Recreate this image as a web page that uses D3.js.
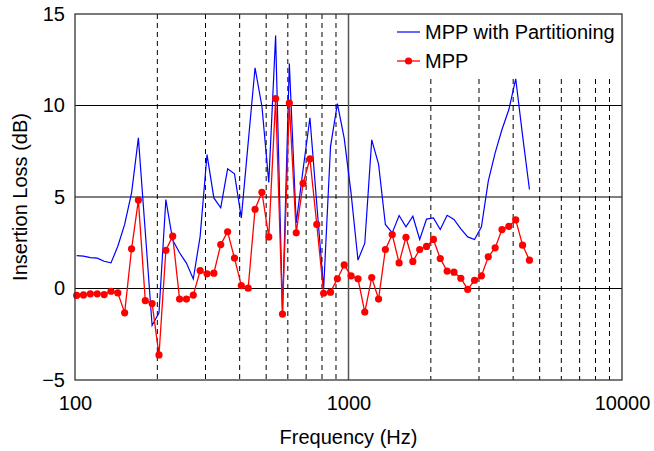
<!DOCTYPE html>
<html>
<head>
<meta charset="utf-8">
<script src="https://cdn.jsdelivr.net/npm/d3@7"></script>
<style>
  html, body { margin: 0; padding: 0; background: #fff; }
  svg { display: block; font-family: "Liberation Sans", Arial, sans-serif; }
</style>
</head>
<body>
<svg id="chart" width="654" height="451"></svg>
<script>
// 1/12-octave band centre frequencies (Hz)
const frequencies = [
  101.4, 107.4, 113.8, 120.6, 127.8, 135.4, 143.4, 151.9, 161.0, 170.5,
  180.7, 191.4, 202.8, 214.9, 227.6, 241.2, 255.5, 270.7, 286.8, 303.9,
  321.9, 341.1, 361.4, 382.9, 405.6, 429.7, 455.3, 482.4, 511.1, 541.4,
  573.6, 607.7, 643.9, 682.2, 722.7, 765.7, 811.2, 859.5, 910.6, 964.7,
  1022, 1083, 1147, 1216, 1288, 1364, 1445, 1531, 1622, 1719,
  1821, 1929, 2044, 2165, 2294, 2430, 2575, 2728, 2890, 3062,
  3244, 3437, 3641, 3858, 4087, 4330, 4588
];

// Insertion loss (dB), MPP with partitioning
const partitionedLoss = [
  1.80, 1.77, 1.69, 1.66, 1.49, 1.40, 2.31, 3.50, 5.23, 8.23,
  3.10, -2.02, -1.33, 4.86, 2.65, 1.95, 1.39, 0.52, 2.85, 7.32,
  4.95, 4.41, 6.54, 6.27, 3.86, 7.96, 12.06, 9.96, 5.80, 13.83,
  -1.30, 12.30, 3.58, 6.50, 9.33, 4.60, 0.00, 7.75, 10.10, 8.20,
  5.20, 1.55, 2.48, 8.12, 6.80, 3.50, 3.04, 3.99, 3.37, 3.95,
  2.68, 3.79, 3.86, 3.22, 4.00, 3.77, 3.26, 2.82, 2.68, 3.37,
  5.87, 7.41, 8.69, 9.78, 11.46, 8.35, 5.41
];

// Insertion loss (dB), plain MPP
const mppLoss = [
  -0.38, -0.35, -0.29, -0.29, -0.33, -0.15, -0.24, -1.33, 2.17, 4.83,
  -0.66, -0.82, -3.63, 2.09, 2.86, -0.58, -0.58, -0.36, 0.98, 0.80,
  0.84, 2.40, 3.10, 1.66, 0.16, 0.02, 4.33, 5.26, 2.82, 10.38,
  -1.40, 10.13, 3.04, 5.74, 7.09, 3.50, -0.26, -0.20, 0.53, 1.29,
  0.69, 0.53, -1.29, 0.60, -0.58, 2.13, 2.95, 1.40, 2.80, 1.48,
  2.13, 2.30, 2.68, 1.64, 0.95, 0.89, 0.56, -0.05, 0.45, 0.69,
  1.73, 2.22, 3.22, 3.40, 3.75, 2.37, 1.55
];

const xTickValues = [100, 1000, 10000];
const yTickValues = [-5, 0, 5, 10, 15];
const solidGridY = [0, 5, 10];
const dashedGridX = [200, 300, 400, 500, 600, 700, 800, 900,
                     2000, 3000, 4000, 5000, 6000, 7000, 8000, 9000];
const solidGridX = [1000];
const seriesNames = ["MPP with Partitioning", "MPP"];

const margin = { left: 75, right: 32, top: 14, bottom: 71 };
const svg = d3.select("#chart");
const W = +svg.attr("width"), H = +svg.attr("height");
const x0 = margin.left, x1 = W - margin.right;
const y0 = margin.top, y1 = H - margin.bottom;

const x = d3.scaleLog().domain([100, 10000]).range([x0, x1]);
const y = d3.scaleLinear().domain([-5, 15]).range([y1, y0]);

const blue = "#0000ff", red = "#ff0000";

// Legend area (white backdrop that hides the upper grid)
const legend = { left: 390, bottom: 79 };

// Grid
const grid = svg.append("g");
grid.selectAll("line.h").data(solidGridY).join("line")
  .attr("x1", x0).attr("x2", x1)
  .attr("y1", d => y(d)).attr("y2", d => y(d))
  .attr("stroke", "#000").attr("stroke-width", 1);
grid.selectAll("line.vd").data(dashedGridX).join("line")
  .attr("x1", d => x(d)).attr("x2", d => x(d))
  .attr("y1", d => x(d) > legend.left ? legend.bottom : y0).attr("y2", y1)
  .attr("stroke", "#000").attr("stroke-width", 1)
  .attr("stroke-dasharray", "5,4");
grid.selectAll("line.vs").data(solidGridX).join("line")
  .attr("x1", d => x(d)).attr("x2", d => x(d))
  .attr("y1", y0).attr("y2", y1)
  .attr("stroke", "#555").attr("stroke-width", 1.5);

// Series
const pts = frequencies.map((f, i) => ({ f, a: partitionedLoss[i], b: mppLoss[i] }));

svg.append("path").datum(pts)
  .attr("fill", "none").attr("stroke", blue).attr("stroke-width", 1.2)
  .attr("stroke-linejoin", "miter")
  .attr("d", d3.line().x(d => x(d.f)).y(d => y(d.a)));

svg.append("path").datum(pts)
  .attr("fill", "none").attr("stroke", red).attr("stroke-width", 1.3)
  .attr("d", d3.line().x(d => x(d.f)).y(d => y(d.b)));

svg.append("g").selectAll("circle").data(pts).join("circle")
  .attr("cx", d => x(d.f)).attr("cy", d => y(d.b)).attr("r", 3.6)
  .attr("fill", red);

// Axes box
svg.append("rect")
  .attr("x", x0).attr("y", y0).attr("width", x1 - x0).attr("height", y1 - y0)
  .attr("fill", "none").attr("stroke", "#333").attr("stroke-width", 1.3);

// Axes (labels only, no tick marks)
const xAxis = d3.axisBottom(x).tickValues(xTickValues).tickFormat(d3.format("d"))
  .tickSize(0).tickPadding(16);
svg.append("g").attr("transform", `translate(0,${y1})`).call(xAxis)
  .call(g => g.select(".domain").remove())
  .selectAll("text").attr("font-size", 20).attr("fill", "#000")
  .attr("font-family", "Liberation Sans, Arial, sans-serif");

const yAxis = d3.axisLeft(y).tickValues(yTickValues).tickFormat(d3.format("d"))
  .tickSize(0).tickPadding(10);
svg.append("g").attr("transform", `translate(${x0},0)`).call(yAxis)
  .call(g => g.select(".domain").remove())
  .selectAll("text").attr("font-size", 20).attr("fill", "#000")
  .attr("font-family", "Liberation Sans, Arial, sans-serif");

// Axis titles
svg.append("text")
  .attr("x", (x0 + x1) / 2).attr("y", 444)
  .attr("text-anchor", "middle").attr("font-size", 20)
  .text("Frequency (Hz)");
svg.append("text")
  .attr("transform", `translate(27,${(y0 + y1) / 2}) rotate(-90)`)
  .attr("text-anchor", "middle").attr("font-size", 20)
  .text("Insertion Loss (dB)");

// Legend
const lg = svg.append("g");
const rowY = [32, 61];
lg.append("line").attr("x1", 397).attr("x2", 420).attr("y1", rowY[0]).attr("y2", rowY[0])
  .attr("stroke", blue).attr("stroke-width", 1.2);
lg.append("line").attr("x1", 397).attr("x2", 420).attr("y1", rowY[1]).attr("y2", rowY[1])
  .attr("stroke", red).attr("stroke-width", 1.3);
lg.append("circle").attr("cx", 408.5).attr("cy", rowY[1]).attr("r", 3.6).attr("fill", red);
lg.selectAll("text").data(seriesNames).join("text")
  .attr("x", 425).attr("y", (d, i) => rowY[i]).attr("dy", "0.35em")
  .attr("font-size", 20).text(d => d);
</script>
</body>
</html>
